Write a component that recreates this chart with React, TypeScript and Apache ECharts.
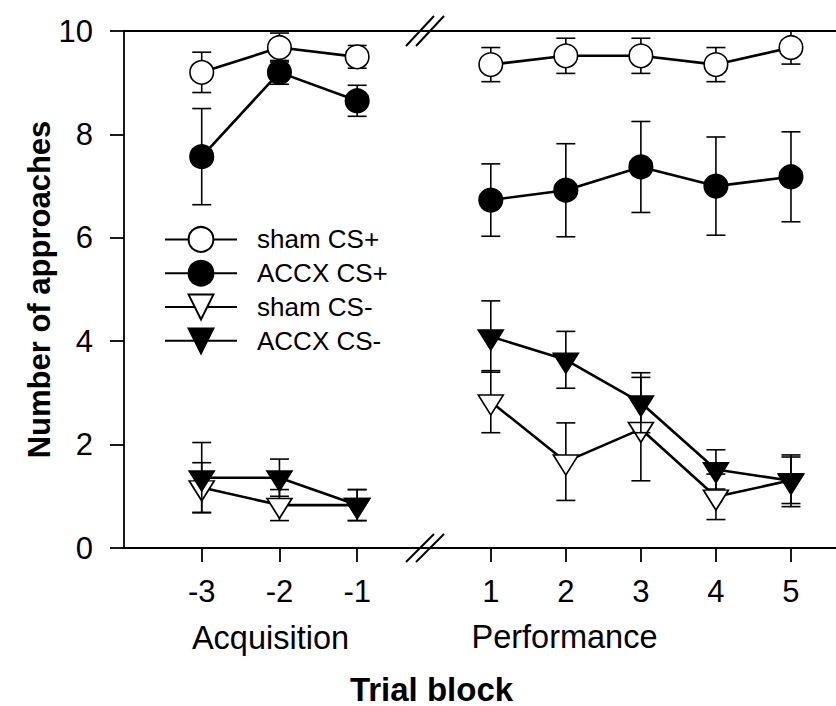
import React, { useEffect, useRef } from "react";
import * as echarts from "echarts";

// ---- data ----
const acqBlocks = [-3, -2, -1];
const perfBlocks = [1, 2, 3, 4, 5];
const yTicks = [0, 2, 4, 6, 8, 10];

const seriesNames = ["sham CS+", "ACCX CS+", "sham CS-", "ACCX CS-"];

const shamCSplusAcq = [9.2, 9.68, 9.5];
const shamCSplusAcqErr = [0.39, 0.28, 0.22];
const accxCSplusAcq = [7.57, 9.2, 8.65];
const accxCSplusAcqErr = [0.93, 0.23, 0.3];
const shamCSminusAcq = [1.17, 0.83, 0.83];
const shamCSminusAcqErr = [0.48, 0.3, 0.3];
const accxCSminusAcq = [1.36, 1.36, 0.83];
const accxCSminusAcqErr = [0.68, 0.36, 0.3];

const shamCSplusPerf = [9.35, 9.52, 9.52, 9.35, 9.68];
const shamCSplusPerfErr = [0.33, 0.34, 0.34, 0.33, 0.32];
const accxCSplusPerf = [6.73, 6.92, 7.37, 7.0, 7.18];
const accxCSplusPerfErr = [0.7, 0.9, 0.88, 0.95, 0.87];
const shamCSminusPerf = [2.83, 1.67, 2.3, 0.99, 1.31];
const shamCSminusPerfErr = [0.6, 0.75, 1.0, 0.44, 0.45];
const accxCSminusPerf = [4.09, 3.64, 2.81, 1.52, 1.3];
const accxCSminusPerfErr = [0.69, 0.55, 0.58, 0.38, 0.5];

const FONT = "'Liberation Sans', Arial, Helvetica, sans-serif";
const TRI = "path://M0,0L26,0L13,21Z";

const groups = [
  { name: seriesNames[0], acq: shamCSplusAcq, acqErr: shamCSplusAcqErr, perf: shamCSplusPerf, perfErr: shamCSplusPerfErr, symbol: "circle", fill: "#ffffff" },
  { name: seriesNames[1], acq: accxCSplusAcq, acqErr: accxCSplusAcqErr, perf: accxCSplusPerf, perfErr: accxCSplusPerfErr, symbol: "circle", fill: "#000000" },
  { name: seriesNames[2], acq: shamCSminusAcq, acqErr: shamCSminusAcqErr, perf: shamCSminusPerf, perfErr: shamCSminusPerfErr, symbol: TRI, fill: "#ffffff" },
  { name: seriesNames[3], acq: accxCSminusAcq, acqErr: accxCSminusAcqErr, perf: accxCSminusPerf, perfErr: accxCSminusPerfErr, symbol: TRI, fill: "#000000" },
];

function errorRender(params: any, api: any) {
  const x = api.value(0);
  const lo = api.value(1);
  const hi = api.value(2);
  const pHi = api.coord([x, hi]);
  const pLo = api.coord([x, lo]);
  const hw = 9.5;
  const style = { stroke: "#000", lineWidth: 1.6, fill: "none" };
  return {
    type: "group",
    children: [
      { type: "line", shape: { x1: pHi[0], y1: pHi[1], x2: pLo[0], y2: pLo[1] }, style },
      { type: "line", shape: { x1: pHi[0] - hw, y1: pHi[1], x2: pHi[0] + hw, y2: pHi[1] }, style },
      { type: "line", shape: { x1: pLo[0] - hw, y1: pLo[1], x2: pLo[0] + hw, y2: pLo[1] }, style },
    ],
  };
}

function buildSeries() {
  const out: any[] = [];
  groups.forEach((g, gi) => {
    const isTri = g.symbol !== "circle";
    const parts = [
      { xs: acqBlocks, ys: g.acq, es: g.acqErr, axis: 0 },
      { xs: perfBlocks, ys: g.perf, es: g.perfErr, axis: 1 },
    ];
    parts.forEach((p) => {
      out.push({
        type: "custom",
        name: g.name + " error",
        xAxisIndex: p.axis,
        yAxisIndex: p.axis,
        z: 10 + gi * 2,
        clip: false,
        renderItem: errorRender,
        encode: { x: 0, y: [1, 2] },
        data: p.xs.map((x, i) => [x, p.ys[i] - p.es[i], p.ys[i] + p.es[i]]),
        silent: true,
      });
      out.push({
        type: "line",
        name: g.name,
        xAxisIndex: p.axis,
        yAxisIndex: p.axis,
        z: 11 + gi * 2,
        symbol: g.symbol,
        symbolSize: isTri ? [25, 20] : 23.5,
        symbolKeepAspect: false,
        symbolOffset: isTri ? [0, 20 / 6] : [0, 0],
        showAllSymbol: true,
        clip: false,
        lineStyle: { color: "#000", width: 2.6 },
        itemStyle: { color: g.fill, borderColor: "#000", borderWidth: 1.6 },
        emphasis: { disabled: true },
        data: p.xs.map((x, i) => [x, p.ys[i]]),
      });
    });
  });
  return out;
}

const axisLineStyle = { color: "#000", width: 1.8 };
const TICK_FONT = 31;

export default function App() {
  const ref = useRef<HTMLDivElement>(null);
  useEffect(() => {
    if (!ref.current) return;
    const chart = echarts.init(ref.current, null, { renderer: "svg" });
    const option: any = {
      animation: false,
      backgroundColor: "#ffffff",
      textStyle: { fontFamily: FONT, color: "#000" },
      grid: [
        { left: 124, top: 31, width: 300, height: 517 },
        { left: 424, top: 31, width: 412, height: 517 },
      ],
      xAxis: [
        {
          gridIndex: 0, type: "value", min: -4, max: -0.14, position: "bottom",
          axisLine: { show: true, onZero: false, lineStyle: axisLineStyle },
          axisTick: { show: true, inside: false, length: 14, customValues: acqBlocks, lineStyle: axisLineStyle },
          axisLabel: { show: true, customValues: acqBlocks, fontSize: TICK_FONT, margin: 28, color: "#000", fontFamily: FONT },
          splitLine: { show: false },
        },
        {
          gridIndex: 1, type: "value", min: 0.11, max: 5.6, position: "bottom",
          axisLine: { show: true, onZero: false, lineStyle: axisLineStyle },
          axisTick: { show: true, inside: false, length: 14, customValues: perfBlocks, lineStyle: axisLineStyle },
          axisLabel: { show: true, customValues: perfBlocks, fontSize: TICK_FONT, margin: 28, color: "#000", fontFamily: FONT },
          splitLine: { show: false },
        },
        {
          gridIndex: 0, type: "value", min: -4, max: -0.14, position: "top",
          axisLine: { show: true, onZero: false, lineStyle: axisLineStyle },
          axisTick: { show: false }, axisLabel: { show: false }, splitLine: { show: false },
        },
        {
          gridIndex: 1, type: "value", min: 0.11, max: 5.6, position: "top",
          axisLine: { show: true, onZero: false, lineStyle: axisLineStyle },
          axisTick: { show: false }, axisLabel: { show: false }, splitLine: { show: false },
        },
      ],
      yAxis: [
        {
          gridIndex: 0, type: "value", min: 0, max: 10, interval: 2,
          name: "Number of approaches", nameLocation: "middle", nameGap: 69,
          nameTextStyle: { fontSize: 31, fontWeight: "bold", color: "#000", fontFamily: FONT },
          axisLine: { show: true, onZero: false, lineStyle: axisLineStyle },
          axisTick: { show: true, inside: false, length: 14, lineStyle: axisLineStyle },
          axisLabel: { show: true, fontSize: TICK_FONT, margin: 31, color: "#000", fontFamily: FONT,
            customValues: yTicks },
          splitLine: { show: false },
        },
        {
          gridIndex: 1, type: "value", min: 0, max: 10, interval: 2, show: false,
          splitLine: { show: false },
        },
      ],
      legend: {
        data: seriesNames,
        orient: "vertical",
        left: 164,
        top: 226,
        padding: 0,
        itemWidth: 72,
        itemHeight: 31,
        itemGap: 7,
        selectedMode: false,
        textStyle: { fontSize: 26, color: "#000", fontFamily: FONT, padding: [0, 0, 0, 15] },
      },
      graphic: [
        { type: "line", shape: { x1: 406, y1: 46, x2: 434, y2: 16 }, style: { stroke: "#000", lineWidth: 2 } },
        { type: "line", shape: { x1: 416, y1: 46, x2: 444, y2: 16 }, style: { stroke: "#000", lineWidth: 2 } },
        { type: "line", shape: { x1: 406, y1: 562, x2: 434, y2: 534 }, style: { stroke: "#000", lineWidth: 2 } },
        { type: "line", shape: { x1: 416, y1: 562, x2: 444, y2: 534 }, style: { stroke: "#000", lineWidth: 2 } },
        { type: "text", x: 270.5, y: 638, style: { text: "Acquisition", font: `32.5px ${FONT}`, fill: "#000", align: "center", verticalAlign: "middle" } },
        { type: "text", x: 564.5, y: 637, style: { text: "Performance", font: `32.5px ${FONT}`, fill: "#000", align: "center", verticalAlign: "middle" } },
        { type: "text", x: 431.5, y: 689, style: { text: "Trial block", font: `bold 33px ${FONT}`, fill: "#000", align: "center", verticalAlign: "middle" } },
      ],
      series: buildSeries(),
    };
    chart.setOption(option);
    return () => chart.dispose();
  }, []);
  return (
    <div
      ref={ref}
      style={{ position: "absolute", left: 0, top: 0, width: "836px", height: "706px", background: "#fff" }}
    />
  );
}
